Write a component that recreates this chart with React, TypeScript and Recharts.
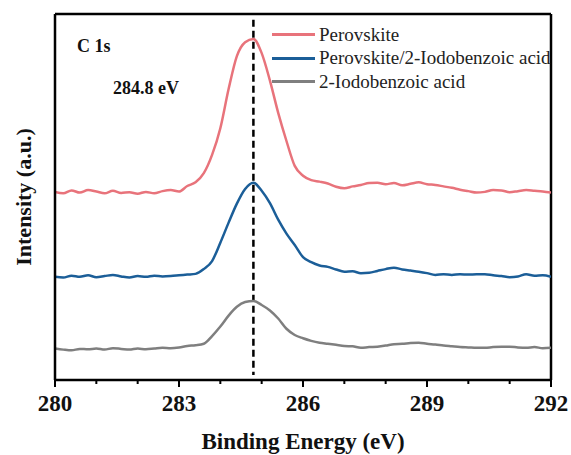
import { LineChart, Line, XAxis, YAxis, ReferenceLine } from 'recharts'

const energies = [
  280.0, 280.2, 280.4, 280.6, 280.8, 281.0, 281.2, 281.4, 281.6, 281.8,
  282.0, 282.2, 282.4, 282.6, 282.8, 283.0, 283.2, 283.4, 283.6, 283.8,
  284.0, 284.2, 284.4, 284.6, 284.8, 285.0, 285.2, 285.4, 285.6, 285.8,
  286.0, 286.2, 286.4, 286.6, 286.8, 287.0, 287.2, 287.4, 287.6, 287.8,
  288.0, 288.2, 288.4, 288.6, 288.8, 289.0, 289.2, 289.4, 289.6, 289.8,
  290.0, 290.2, 290.4, 290.6, 290.8, 291.0, 291.2, 291.4, 291.6, 291.8,
  292.0,
]

// offset intensities (a.u.), stacked as in the figure
const perovskite = [
  51.4, 51.0, 51.8, 51.2, 51.9, 51.5, 51.0, 51.7, 51.1, 51.3,
  50.9, 51.4, 51.0, 51.6, 51.9, 51.5, 53.0, 54.0, 56.5, 61.5,
  68.8, 79.5, 88.5, 92.3, 93.2, 89.3, 81.8, 73.0, 65.3, 58.5,
  55.8, 54.6, 54.2, 53.7, 52.8, 52.4, 52.9, 53.3, 53.8, 53.9,
  53.5, 53.8, 53.2, 53.6, 54.0, 53.5, 53.3, 52.9, 52.5, 52.0,
  51.6, 51.2, 51.4, 51.9, 51.8, 51.3, 51.6, 51.9, 51.7, 51.5,
  51.2,
]
const perovskiteIba = [
  28.2, 28.0, 28.5, 28.2, 28.6, 28.1, 28.4, 28.7, 28.3, 28.0,
  28.4, 28.2, 28.5, 28.3, 28.4, 28.6, 28.8, 29.0, 30.3, 32.5,
  37.5, 43.0, 48.2, 52.2, 53.9, 51.7, 48.3, 43.8, 40.0, 36.9,
  33.6, 32.2, 31.3, 30.9, 30.2, 29.6, 29.7, 29.2, 29.3, 29.8,
  30.3, 30.7, 30.2, 29.9, 29.6, 29.2, 28.7, 28.9, 28.7, 28.9,
  28.8, 28.9, 28.9, 28.6, 28.4, 28.1, 28.3, 28.9, 28.5, 28.6,
  28.2,
]
const iba = [
  8.6, 8.3, 8.1, 8.5, 8.4, 8.6, 8.3, 8.7, 8.5, 8.3,
  8.6, 8.4, 8.6, 8.8, 8.7, 8.9, 9.3, 9.5, 9.9, 12.0,
  14.6, 17.6, 20.0, 21.3, 21.6, 20.5, 19.0, 16.8, 14.0, 12.3,
  11.4, 10.7, 10.2, 9.9, 9.6, 9.3, 9.2, 8.8, 9.0, 9.1,
  9.4, 9.8, 9.9, 10.1, 10.2, 9.9, 9.7, 9.4, 9.2, 9.0,
  8.9, 8.8, 8.8, 9.0, 9.1, 9.1, 8.9, 8.8, 9.0, 8.7,
  8.8,
]

const xTicks = [280, 281, 282, 283, 284, 285, 286, 287, 288, 289, 290, 291, 292]
const majorTicks = [280, 283, 286, 289, 292]
const peakPosition = 284.8

const series = [
  { key: 'perovskite', name: 'Perovskite', color: '#e8737b' },
  { key: 'perovskiteIba', name: 'Perovskite/2-Iodobenzoic acid', color: '#1b5e98' },
  { key: 'iba', name: '2-Iodobenzoic acid', color: '#7f7f7f' },
]

const data = energies.map((e, i) => ({
  energy: e,
  perovskite: perovskite[i],
  perovskiteIba: perovskiteIba[i],
  iba: iba[i],
}))

const FONT = '"Liberation Serif", "Times New Roman", serif'

const EnergyTick = ({ x, y, payload }: any) => {
  const major = majorTicks.includes(payload.value)
  return (
    <g>
      <line x1={x} x2={x} y1={y} y2={y + (major ? 7 : 4)} stroke="#000" strokeWidth={2} />
      {major && (
        <text x={x} y={y + 31} textAnchor="middle" fontFamily={FONT} fontWeight="bold" fontSize={23} fill="#111">
          {payload.value}
        </text>
      )}
    </g>
  )
}

export default function App() {
  return (
    <div style={{ position: 'absolute', left: 0, top: 0, width: 571, height: 455, background: '#fff' }}>
      <LineChart width={571} height={455} data={data} margin={{ top: 14, right: 20, left: 0, bottom: 0 }}>
        <XAxis
          dataKey="energy" type="number" domain={[280, 292]} ticks={xTicks} interval={0}
          allowDataOverflow tickSize={0} tickMargin={0} tickLine={false} tick={<EnergyTick />}
          height={75} axisLine={{ stroke: '#000', strokeWidth: 2.5 }}
          label={{ value: 'Binding Energy (eV)', position: 'insideBottom', offset: 6, fill: '#111', fontFamily: FONT, fontWeight: 'bold', fontSize: 23 }}
        />
        <YAxis
          type="number" domain={[0, 100]} tick={false} tickLine={false} width={55}
          axisLine={{ stroke: '#000', strokeWidth: 2.5 }}
          label={{ value: 'Intensity (a.u.)', angle: -90, position: 'center', dx: -4, fill: '#111', fontFamily: FONT, fontWeight: 'bold', fontSize: 22 }}
        />
        <ReferenceLine y={100} stroke="#000" strokeWidth={2.5} />
        <ReferenceLine x={292} stroke="#000" strokeWidth={2.5} />
        <ReferenceLine
          segment={[{ x: peakPosition, y: 98.4 }, { x: peakPosition, y: 1.4 }]}
          stroke="#000" strokeWidth={2.5} strokeDasharray="7 4"
        />
        {series.map(s => (
          <Line
            key={s.key} dataKey={s.key} name={s.name} type="monotone" stroke={s.color}
            strokeWidth={2.5} dot={false} isAnimationActive={false}
          />
        ))}
      </LineChart>
      <div style={{ position: 'absolute', left: 272, top: 23, fontFamily: FONT, fontSize: 19, color: '#222' }}>
        {series.map(s => (
          <div key={s.key} style={{ display: 'flex', alignItems: 'center', height: 23.5 }}>
            <span style={{ display: 'inline-block', width: 43, height: 3, background: s.color, marginRight: 4 }} />
            <span style={{ whiteSpace: 'nowrap' }}>{s.name}</span>
          </div>
        ))}
      </div>
      <div style={{ position: 'absolute', left: 77, top: 36, fontFamily: FONT, fontWeight: 'bold', fontSize: 18, color: '#111' }}>C 1s</div>
      <div style={{ position: 'absolute', left: 113, top: 78, fontFamily: FONT, fontWeight: 'bold', fontSize: 18, color: '#111' }}>284.8 eV</div>
    </div>
  )
}
